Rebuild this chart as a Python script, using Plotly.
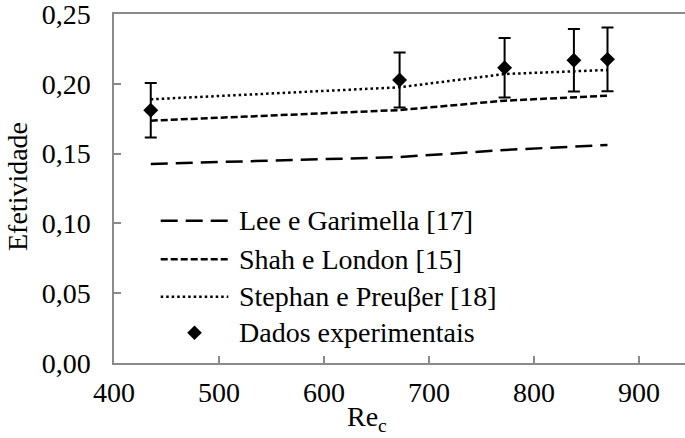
import plotly.graph_objects as go

# Reynolds number of the cold stream (x axis)
re_c = [435, 672, 772, 838, 870]

# Effectiveness predicted by the correlations
lee_garimella = [0.1426, 0.1475, 0.1526, 0.1550, 0.1562]
shah_london = [0.1736, 0.1812, 0.1879, 0.1903, 0.1915]
stephan_preusser = [0.1889, 0.1975, 0.2070, 0.2090, 0.2099]

# Measured effectiveness and its uncertainty
efetividade_exp = [0.1810, 0.2027, 0.2115, 0.2168, 0.2175]
erro_exp = [0.0195, 0.0197, 0.0213, 0.0224, 0.0229]

x_ticks = [400, 500, 600, 700, 800, 900]
y_ticks = [0.00, 0.05, 0.10, 0.15, 0.20, 0.25]
y_tick_labels = ["0,00", "0,05", "0,10", "0,15", "0,20", "0,25"]

legend_names = ["Lee e Garimella [17]", "Shah e London [15]",
                "Stephan e Preuβer [18]", "Dados experimentais"]

W, H = 685, 438
L, R, T, B = 114, 0, 14, 75
PW, PH = W - L - R, H - T - B

FONT = "Times New Roman"
FS = 28
AXIS_GRAY = "#8a8a8a"

long_dash = dict(color="black", width=2.5, dash="17px,8px")
short_dash = dict(color="black", width=2.5, dash="7px,3px")
dotted = dict(color="black", width=2.5, dash="2.5px,3px")


def px(x):
    return (x - L) / PW


def py(y):
    return (H - B - y) / PH


fig = go.Figure()
for vals, style, name in [(lee_garimella, long_dash, legend_names[0]),
                          (shah_london, short_dash, legend_names[1]),
                          (stephan_preusser, dotted, legend_names[2])]:
    fig.add_trace(go.Scatter(x=re_c, y=vals, mode="lines", line=style,
                             name=name, showlegend=False))

fig.add_trace(go.Scatter(
    x=re_c, y=efetividade_exp, mode="markers", name=legend_names[3],
    marker=dict(symbol="diamond", size=11.5, color="black"),
    error_y=dict(type="data", array=erro_exp, visible=True,
                 color="black", thickness=2, width=6),
    showlegend=False))

# Legend drawn inside the plot area
rows_y = [220.7, 259.3, 296.7, 332.7]
sample_x0, sample_x1, text_x = 160.7, 228.3, 236.7
shapes = []
annotations = []
for ry, style in zip(rows_y[:3], [long_dash, short_dash, dotted]):
    shapes.append(dict(type="line", xref="paper", yref="paper",
                       x0=px(sample_x0), x1=px(sample_x1), y0=py(ry), y1=py(ry),
                       line=style))
cx, cy, hw = (sample_x0 + sample_x1) / 2, rows_y[3], 7.3
shapes.append(dict(
    type="path", xref="paper", yref="paper", fillcolor="black",
    line=dict(width=0),
    path=(f"M {px(cx - hw)} {py(cy)} L {px(cx)} {py(cy - hw)} "
          f"L {px(cx + hw)} {py(cy)} L {px(cx)} {py(cy + hw)} Z")))
for ry, name in zip(rows_y, legend_names):
    annotations.append(dict(xref="paper", yref="paper", x=px(text_x), y=py(ry),
                            xanchor="left", yanchor="middle", showarrow=False,
                            text=name, font=dict(family=FONT, size=FS, color="black")))

# Axis titles
annotations.append(dict(xref="paper", yref="paper", x=px(367), y=py(438),
                        xanchor="center", yanchor="bottom", showarrow=False,
                        text="Re<sub>c</sub>",
                        font=dict(family=FONT, size=FS, color="black")))
annotations.append(dict(xref="paper", yref="paper", x=px(17), y=py(187),
                        xanchor="center", yanchor="middle", showarrow=False,
                        textangle=-90, text="Efetividade",
                        font=dict(family=FONT, size=FS, color="black")))

fig.update_layout(
    width=W, height=H, autosize=False,
    margin=dict(l=L, r=R, t=T, b=B, pad=0),
    paper_bgcolor="white", plot_bgcolor="white",
    font=dict(family=FONT, size=FS, color="black"),
    shapes=shapes, annotations=annotations, showlegend=False,
)
fig.update_xaxes(
    range=[400, 400 + PW / 1.05], tickvals=x_ticks,
    showgrid=False, zeroline=False,
    showline=True, linecolor=AXIS_GRAY, linewidth=1.5, mirror=True,
    ticks="inside", ticklen=7, tickwidth=1.5, tickcolor=AXIS_GRAY,
    ticklabelstandoff=4, ticklabeloverflow="allow",
    tickfont=dict(family=FONT, size=FS, color="black"),
)
fig.update_yaxes(
    range=[0, 0.25], tickvals=y_ticks, ticktext=y_tick_labels,
    showgrid=False, zeroline=False,
    showline=True, linecolor=AXIS_GRAY, linewidth=1.5, mirror=False,
    ticks="inside", ticklen=7, tickwidth=1.5, tickcolor=AXIS_GRAY,
    ticklabelstandoff=16, ticklabeloverflow="allow",
    tickfont=dict(family=FONT, size=FS, color="black"),
)

fig.write_html("out.html")
